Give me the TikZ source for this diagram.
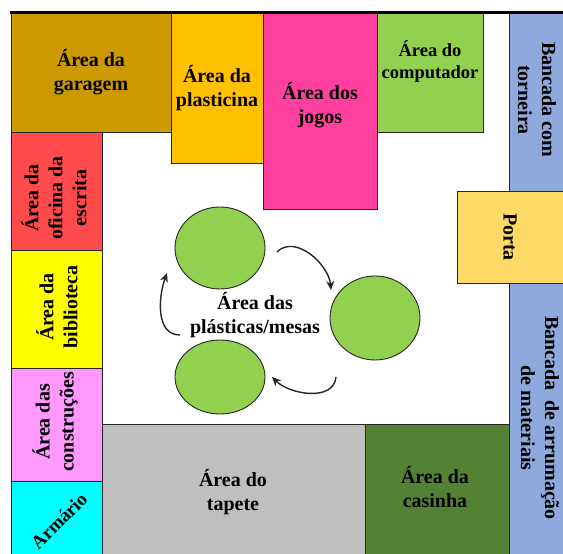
\documentclass[tikz,border=0pt]{standalone}
\usepackage{fontspec}
\setmainfont{Liberation Serif}
\usetikzlibrary{shapes.geometric, arrows.meta}
\definecolor{cGaragem}{HTML}{CC9900}
\definecolor{cPlasticina}{HTML}{FFC000}
\definecolor{cJogos}{HTML}{FF409F}
\definecolor{cVerde}{HTML}{92D050}
\definecolor{cAzul}{HTML}{8EA9DB}
\definecolor{cPorta}{HTML}{FFD966}
\definecolor{cOficina}{HTML}{FF4B4B}
\definecolor{cBiblioteca}{HTML}{FFFF00}
\definecolor{cConstrucoes}{HTML}{FF99FF}
\definecolor{cArmario}{HTML}{00FFFF}
\definecolor{cTapete}{HTML}{BFBFBF}
\definecolor{cCasinha}{HTML}{548235}
\begin{document}
\begin{tikzpicture}[x=1pt, y=1pt, font=\bfseries\fontsize{20}{24}\selectfont,
			area/.style={draw=black!85, line width=0.9pt},
			lbl/.style={align=center, inner sep=0pt},
			mesa/.style={ellipse, draw=black!85, line width=0.9pt, fill=cVerde, inner sep=0pt},
			seta/.style={-{Stealth[length=9pt, width=8pt]}, line width=1.4pt, black!85}]
			\useasboundingbox (0,0) rectangle (563,554);
			% parede de cima
			\path[area, fill=cGaragem]    (11,422)  rectangle (171,541);
			\path[area, fill=cPlasticina] (171,391) rectangle (263,541);
			\path[area, fill=cJogos]      (263,345) rectangle (377,541);
			\path[area, fill=cVerde]      (377,422) rectangle (483,541);
			\node[lbl] (garagem)    at (91,482)  {Área da\\garagem};
			\node[lbl] (plasticina) at (217,466) {Área da\\plasticina};
			\node[lbl] (jogos)      at (320,449) {Área dos\\jogos};
			\node[lbl, font=\bfseries\fontsize{18.5}{22}\selectfont] (computador) at (430,492) {Área do\\computador};
			% parede da direita
			\path[area, fill=cAzul]  (509,363) rectangle (566,541);
			\path[area, fill=cPorta] (457,271) rectangle (566,363);
			\path[area, fill=cAzul]  (509,-3)  rectangle (566,271);
			\node[lbl, rotate=-90] (torneira)  at (537,454) {Bancada com\\torneira};
			\node[lbl, rotate=-90] (porta)     at (510,317) {Porta};
			\node[lbl, rotate=-90] (arrumacao) at (540,136) {Bancada~~de arrumação\\de materiais};
			% parede da esquerda
			\path[area, fill=cOficina]     (11,304) rectangle (102,422);
			\path[area, fill=cBiblioteca]  (11,186) rectangle (102,304);
			\path[area, fill=cConstrucoes] (11,73)  rectangle (102,186);
			\path[area, fill=cArmario]     (11,-3)  rectangle (102,73);
			\node[lbl, rotate=90] (oficina)     at (54,356) {Área da\\oficina da\\escrita};
			\node[lbl, rotate=90] (biblioteca)  at (57,247) {Área da\\biblioteca};
			\node[lbl, rotate=90] (construcoes) at (55,132) {Área das\\construções};
			\node[lbl, rotate=45, font=\bfseries\fontsize{19}{22}\selectfont] (armario) at (59,33) {Armário};
			% parede de baixo
			\path[area, fill=cTapete]  (102,-3) rectangle (365,130);
			\path[area, fill=cCasinha] (365,-3) rectangle (509,130);
			\node[lbl] (tapete)  at (233,62) {Área do\\tapete};
			\node[lbl] (casinha) at (435,67) {Área da\\casinha};
			% mesas e rotação
			\node[mesa, minimum width=90pt, minimum height=82pt] (mesaA) at (220,306) {};
			\node[mesa, minimum width=90pt, minimum height=84pt] (mesaB) at (375,236) {};
			\node[mesa, minimum width=90pt, minimum height=74pt] (mesaC) at (220,177) {};
			\node[lbl] (plasticas) at (255,239) {Área das\\plásticas/mesas};
			\coordinate (s1) at (277,302);
			\coordinate (e1) at (331,264);
			\coordinate (s2) at (336,177);
			\coordinate (e2) at (272,177);
			\coordinate (s3) at (180,219);
			\coordinate (e3) at (167,281);
			\draw[seta] (s1) to[out=45, in=95]   (e1);
			\draw[seta] (s2) to[out=-95, in=-45] (e2);
			\draw[seta] (s3) to[out=180, in=-110] (e3);
			% linha de topo
			\coordinate (topoA) at (10,541.5);
			\coordinate (topoB) at (566,541.5);
			\draw[line width=2.5pt] (topoA) -- (topoB);
		\end{tikzpicture}
\end{document}
